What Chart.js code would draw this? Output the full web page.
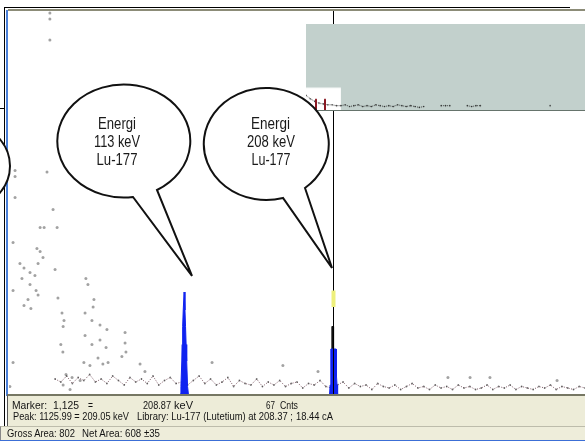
<!DOCTYPE html>
<html>
<head>
<meta charset="utf-8">
<script src="https://cdn.jsdelivr.net/npm/chart.js@4/dist/chart.umd.min.js"></script>
<style>
  html, body { margin: 0; padding: 0; background: #fff; }
  body { width: 585px; height: 441px; position: relative; overflow: hidden; font-family: "Liberation Sans", Arial, sans-serif; }
  .abs { position: absolute; }
  #main { left: 9px; top: 10px; }
  #inset { left: 306px; top: 24px; background: #c2d0cc; border-bottom: 1px solid #66746c; }
  #overlay { position: absolute; left: 0; top: 0; }
</style>
</head>
<body>
<div class="abs" style="left:5px;top:7px;width:565px;height:1px;background:#000"></div>
<div class="abs" style="left:4px;top:7px;width:1px;height:419px;background:#000"></div>
<div class="abs" style="left:0px;top:108px;width:4px;height:1px;background:#000"></div>
<div class="abs" style="left:6px;top:10px;width:2px;height:386px;background:#4a7fd8"></div>
<canvas id="main" class="abs" width="576" height="384"></canvas>
<div class="abs" style="left:8px;top:9px;width:577px;height:2px;background:#8c8c78"></div>
<canvas id="inset" class="abs" width="279" height="87"></canvas>
<div class="abs" style="left:7px;top:394px;width:578px;height:30px;background:#edecd8;border-top:2px solid #767763;border-left:1px solid #555"></div>
<div class="abs" style="left:0px;top:426px;width:585px;height:14px;background:#eeedda;border-top:1px solid #bdbcab;border-left:1px solid #888"></div>
<div class="abs" style="left:0px;top:440px;width:585px;height:1px;background:#3c6fd6"></div>

<svg id="overlay" width="585" height="441" xmlns="http://www.w3.org/2000/svg">
  <g fill="#fff" stroke="#111" stroke-width="2" stroke-linejoin="miter">
    <ellipse cx="-55" cy="166" rx="65" ry="50"/>
    <path d="M 157 190 A 66.5 56.5 0 1 0 133 197 L 192 276 Z"/>
    <path d="M 305 188 A 62.5 56 0 1 0 283 198 L 332 268 Z"/>
  </g>
  <g font-family="Liberation Sans, Arial, sans-serif" font-size="17" fill="#1a1a1a" text-anchor="middle">
    <text x="117" y="129" textLength="38" lengthAdjust="spacingAndGlyphs">Energi</text>
    <text x="117" y="147" textLength="46" lengthAdjust="spacingAndGlyphs">113 keV</text>
    <text x="117" y="165" textLength="41" lengthAdjust="spacingAndGlyphs">Lu-177</text>
    <text x="270.5" y="129" textLength="39" lengthAdjust="spacingAndGlyphs">Energi</text>
    <text x="271" y="147" textLength="48" lengthAdjust="spacingAndGlyphs">208 keV</text>
    <text x="271" y="165" textLength="39" lengthAdjust="spacingAndGlyphs">Lu-177</text>
  </g>
  <g font-family="Liberation Sans, Arial, sans-serif" font-size="11" fill="#141414">
    <text x="12" y="408.5" textLength="35" lengthAdjust="spacingAndGlyphs">Marker:</text>
    <text x="53" y="408.5" textLength="26" lengthAdjust="spacingAndGlyphs">1,125</text>
    <text x="88" y="408.5" textLength="5" lengthAdjust="spacingAndGlyphs">=</text>
    <text x="143" y="408.5" textLength="28" lengthAdjust="spacingAndGlyphs">208.87</text>
    <text x="174" y="408.5" textLength="19" lengthAdjust="spacingAndGlyphs">keV</text>
    <text x="266" y="408.5" textLength="9" lengthAdjust="spacingAndGlyphs">67</text>
    <text x="280" y="408.5" textLength="18" lengthAdjust="spacingAndGlyphs">Cnts</text>
    <text x="13" y="420" textLength="116" lengthAdjust="spacingAndGlyphs">Peak: 1125.99 = 209.05 keV</text>
    <text x="137" y="420" textLength="156" lengthAdjust="spacingAndGlyphs">Library: Lu-177 (Lutetium) at 208.37 ;</text>
    <text x="296" y="420" textLength="37" lengthAdjust="spacingAndGlyphs">18.44 cA</text>
    <text x="7" y="437" textLength="68" lengthAdjust="spacingAndGlyphs">Gross Area: 802</text>
    <text x="82" y="437" textLength="78" lengthAdjust="spacingAndGlyphs">Net Area: 608 ±35</text>
  </g>
</svg>

<script>
// spectrum view: channels 0..2000, counts 0..256
const channelRange = [0, 2000];
const countRange = [0, 256];

// marker readout
const markerChannel = 1125;
const markerCounts = 67;

// sparse points in the low-energy part (channel, counts)
const scatterChannels = [142,142,142,21,21,132,21,153,108,122,167,14,97,108,118,101,38,52,73,90,45,160,14,73,94,101,66,52,76,170,267,274,295,292,184,191,188,264,288,316,340,264,403,403,406,180,187,288,316,337,309,326,344,260,281,392,14,3,455,472,198,219,247,188,212,705,951,1073,1524,1601,1670,1903];
const scatterCounts = [254,250,236,149,145,148,131,123,111,111,111,101,97,95,91,87,87,84,81,79,77,83,69,73,69,66,63,59,57,64,77,73,63,58,54,49,45,54,49,46,43,39,41,34,28,33,28,33,36,31,24,20,21,21,19,25,21,5,20,15,13,11,9,6,3,21,19,15,11,11,11,9];

// background continuum, every 20 channels from channel 160
const baseStart = 160;
const baseStep = 20;
const baseCounts = [10,8,12,7,11,9,13,8,10,7,12,9,6,11,8,10,7,12,6,9,11,7,8,6,9,12,7,10,6,8,11,5,9,7,6,10,5,8,6,9,5,7,8,4,7,6,9,5,4,6,8,4,7,5,6,3,7,5,4,6,3,5,7,4,5,3,6,4,5,3,6,4,5,3,4,6,3,5,4,6,3,5,4,3,5,4,6,3,5,4,3,5,4];

// ROI 1: 113 keV peak
const roi1Channels = [594,597,600,601,603,605,608,611,613,615,617,620,623];
const roi1Counts   = [0,5,22,33,45,56,68,56,45,33,22,5,0];
// ROI 2: 208 keV peak (blue part and dark tip)
const roi2Channels = [1113,1115,1117,1118,1136,1137,1139,1141];
const roi2Counts   = [0,6,12,30,30,12,6,0];
const tipChannels  = [1120,1121,1126,1127];
const tipCounts    = [30,45,45,30];

// overview inset: 64 bins of 256 channels
const overviewBin = 256;
const overviewCounts = [17,13,10,8,7,6,6,5, 5,6,4,5,6,4,5,4, 6,5,4,5,4,6,5,4, 5,4,3,4,null,null,null,5, 5,5,null,null,null,5,4,5, 5,null,null,null,null,null,null,null, null,null,null,null,null,null,null,null, 5,null,null,null,null,null,null,null];
const overviewView = [0, 2048];
const roiCenters = [609, 1125];

const pts = (xs, ys) => xs.map((c, i) => ({ x: c, y: ys[i] }));
const blue = '#0f22f0';

// Marker line and yellow cursor on top of the spectrum
const markerPlugin = {
  id: 'marker',
  afterDatasetsDraw(chart) {
    const { ctx, chartArea, scales: { x, y } } = chart;
    const px = Math.round(x.getPixelForValue(markerChannel)) + 0.5;
    ctx.save();
    ctx.strokeStyle = '#000';
    ctx.lineWidth = 1;
    ctx.beginPath();
    ctx.moveTo(px, chartArea.top);
    ctx.lineTo(px, chartArea.bottom);
    ctx.stroke();
    ctx.strokeStyle = '#eef07c';
    ctx.lineWidth = 4;
    ctx.beginPath();
    ctx.moveTo(px, y.getPixelForValue(markerCounts + 2));
    ctx.lineTo(px, y.getPixelForValue(markerCounts - 9));
    ctx.stroke();
    ctx.restore();
  }
};

new Chart(document.getElementById('main'), {
  type: 'scatter',
  data: {
    datasets: [
      {
        type: 'line',
        data: pts(roi1Channels, roi1Counts),
        borderColor: blue, backgroundColor: blue, borderWidth: 1,
        fill: 'origin', pointRadius: 0, order: 1
      },
      {
        type: 'line',
        data: pts(roi2Channels, roi2Counts),
        borderColor: blue, backgroundColor: blue, borderWidth: 1,
        fill: 'origin', pointRadius: 0, order: 2
      },
      {
        type: 'line',
        data: pts(tipChannels, tipCounts),
        borderColor: '#111', backgroundColor: '#111', borderWidth: 1,
        fill: 'origin', pointRadius: 0, order: 3
      },
      {
        type: 'line',
        data: baseCounts.map((v, i) => ({ x: baseStart + i * baseStep, y: v })),
        borderColor: 'rgba(95,50,65,0.8)', borderWidth: 1, borderDash: [1, 1.5],
        pointRadius: 0.9, pointBorderWidth: 0, pointBackgroundColor: 'rgba(60,60,60,0.7)',
        fill: false, tension: 0, order: 4
      },
      {
        data: pts(scatterChannels, scatterCounts),
        pointRadius: 1.5, pointBorderWidth: 0,
        pointBackgroundColor: 'rgba(70,70,70,0.5)', order: 5
      }
    ]
  },
  options: {
    responsive: false,
    animation: false,
    devicePixelRatio: 1,
    layout: { padding: 0, autoPadding: false },
    scales: {
      x: { type: 'linear', display: false, min: channelRange[0], max: channelRange[1] },
      y: { display: false, min: countRange[0], max: countRange[1] }
    },
    plugins: { legend: { display: false }, tooltip: { enabled: false } }
  },
  plugins: [markerPlugin]
});

// Overview inset: white view window and red ROI markers
const insetPlugin = {
  id: 'insetView',
  beforeDatasetsDraw(chart) {
    const { ctx, chartArea, scales: { x, y } } = chart;
    const x0 = x.getPixelForValue(overviewView[0]);
    const x1 = x.getPixelForValue(overviewView[1]);
    const top = y.getPixelForValue(26);
    ctx.save();
    ctx.fillStyle = '#fff';
    ctx.fillRect(x0, top, x1 - x0, chartArea.bottom - top);
    ctx.restore();
  },
  afterDatasetsDraw(chart) {
    const { ctx, chartArea, scales: { x, y } } = chart;
    ctx.save();
    ctx.strokeStyle = '#8a1822';
    ctx.lineWidth = 2;
    roiCenters.forEach(c => {
      const px = Math.round(x.getPixelForValue(c));
      ctx.beginPath();
      ctx.moveTo(px, chartArea.bottom);
      ctx.lineTo(px, y.getPixelForValue(13));
      ctx.stroke();
    });
    ctx.restore();
  }
};

new Chart(document.getElementById('inset'), {
  type: 'line',
  data: {
    datasets: [{
      data: overviewCounts.map((v, i) => ({ x: i * overviewBin, y: v })),
      borderColor: 'rgba(30,30,30,0.8)', borderWidth: 1, borderDash: [1, 1],
      pointRadius: 0.8, pointBorderWidth: 0, pointBackgroundColor: 'rgba(30,30,30,0.8)',
      spanGaps: false, fill: false, tension: 0
    }]
  },
  options: {
    responsive: false,
    animation: false,
    devicePixelRatio: 1,
    layout: { padding: 0, autoPadding: false },
    scales: {
      x: { type: 'linear', display: false, min: 0, max: 16384 },
      y: { display: false, min: 0, max: 100 }
    },
    plugins: { legend: { display: false }, tooltip: { enabled: false } }
  },
  plugins: [insetPlugin]
});
</script>
</body>
</html>
